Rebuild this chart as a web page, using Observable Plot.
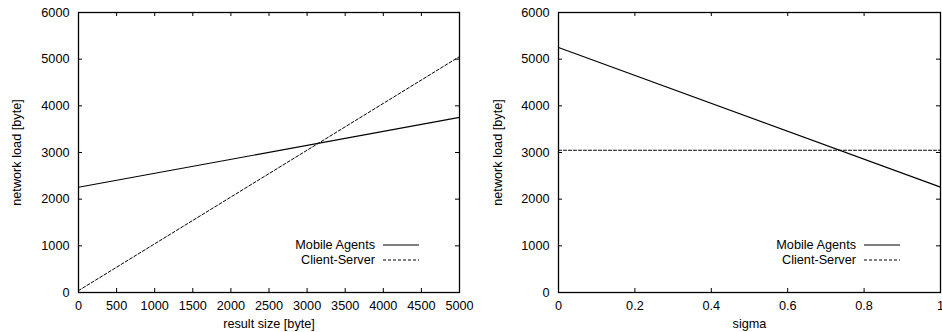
<!DOCTYPE html>
<html>
<head>
<meta charset="utf-8">
<script src="https://cdn.jsdelivr.net/npm/d3@7"></script>
<script src="https://cdn.jsdelivr.net/npm/@observablehq/plot@0.6"></script>
<style>
  html, body { margin: 0; padding: 0; background: #fff; }
  #wrap { display: flex; width: 942px; height: 332px; overflow: hidden; }
  #wrap svg { overflow: visible; background: transparent; flex: none; }
</style>
</head>
<body>
<div id="wrap"></div>
<script>
// ---- data ----
const resultSize = [0, 5000];
const mobileAgentsLeft = [2255, 3752];
const clientServerLeft = [40, 5055];
const sigma = [0, 1];
const mobileAgentsRight = [5250, 2258];
const clientServerRight = [3048, 3048];
const seriesNames = ["Mobile Agents", "Client-Server"];
const yTicks = [0, 1000, 2000, 3000, 4000, 5000, 6000];
const xTicksLeft = [0, 500, 1000, 1500, 2000, 2500, 3000, 3500, 4000, 4500, 5000];
const xTicksRight = [0, 0.2, 0.4, 0.6, 0.8, 1];

const FONT = "'Liberation Sans', Arial, Helvetica, sans-serif";
const W = 471, H = 332, MT = 12, MB = 40;
const dash = "3,2";

function makeChart({xs, ma, cs, xTicks, xDomain, xLabel, xFormat, ml, mr, yLabelOffset}) {
  const rows = xs.map((x, i) => ({x, ma: ma[i], cs: cs[i]}));
  const fh = H - MT - MB, fw = W - ml - mr;
  const tick = 4;
  const svg = Plot.plot({
    width: W, height: H,
    marginLeft: ml, marginRight: mr, marginTop: MT, marginBottom: MB,
    style: {fontFamily: FONT, fontSize: "12.7px", color: "#000", background: "transparent", overflow: "visible"},
    x: {domain: xDomain},
    y: {domain: [0, 6000]},
    marks: [
      Plot.axisX(xTicks, {tickSize: 0, tickPadding: 8, tickFormat: xFormat, label: xLabel, labelAnchor: "center", labelArrow: "none", labelOffset: 35, fontSize: 12.7}),
      Plot.axisY(yTicks, {tickSize: 0, tickPadding: 9, tickFormat: d3.format("d"), label: "network load [byte]", labelAnchor: "center", labelArrow: "none", labelOffset: yLabelOffset, fontSize: 12.7}),
      Plot.tickX(xTicks, {x: d => d, insetTop: fh - tick, stroke: "#000", strokeWidth: 1}),
      Plot.tickX(xTicks, {x: d => d, insetBottom: fh - tick, stroke: "#000", strokeWidth: 1}),
      Plot.tickY(yTicks, {y: d => d, insetRight: fw - tick, stroke: "#000", strokeWidth: 1}),
      Plot.tickY(yTicks, {y: d => d, insetLeft: fw - tick, stroke: "#000", strokeWidth: 1}),
      Plot.line(rows, {x: "x", y: "ma", stroke: "#000", strokeWidth: 1.1}),
      Plot.line(rows, {x: "x", y: "cs", stroke: "#000", strokeWidth: 1, strokeDasharray: dash}),
      Plot.frame({stroke: "#000", strokeWidth: 1.3})
    ]
  });
  // legend inside the frame, bottom-right
  const right = W - mr, bottom = H - MB;
  const g = d3.select(svg).append("g").attr("font-family", FONT).attr("font-size", "12.7px");
  seriesNames.forEach((name, i) => {
    const y = bottom - 47 + i * 15;
    g.append("text").attr("x", right - 84).attr("y", y).attr("dy", "0.35em")
      .attr("text-anchor", "end").attr("fill", "#000").text(name);
    g.append("line").attr("x1", right - 76).attr("x2", right - 40).attr("y1", y).attr("y2", y)
      .attr("stroke", "#000").attr("stroke-width", i === 0 ? 1.1 : 1)
      .attr("stroke-dasharray", i === 0 ? null : dash);
  });
  return svg;
}

const wrap = document.getElementById("wrap");
wrap.appendChild(makeChart({
  xs: resultSize, ma: mobileAgentsLeft, cs: clientServerLeft,
  xTicks: xTicksLeft, xDomain: [0, 5000], xLabel: "result size [byte]",
  xFormat: d3.format("d"), ml: 78, mr: 12, yLabelOffset: 67
}));
wrap.appendChild(makeChart({
  xs: sigma, ma: mobileAgentsRight, cs: clientServerRight,
  xTicks: xTicksRight, xDomain: [0, 1], xLabel: "sigma",
  xFormat: d => d === 0 ? "0" : d === 1 ? "1" : d.toFixed(1), ml: 87, mr: 2, yLabelOffset: 66
}));
</script>
</body>
</html>
